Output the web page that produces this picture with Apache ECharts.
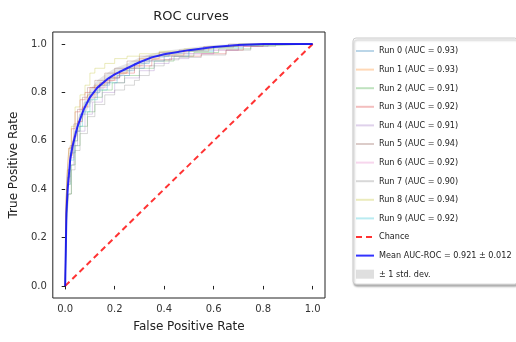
<!DOCTYPE html>
<html>
<head>
<meta charset="utf-8">
<script src="https://cdn.jsdelivr.net/npm/echarts@6/dist/echarts.min.js"></script>
<style>
  html, body { margin: 0; padding: 0; background: #fff; }
  #chart { width: 516px; height: 342px; }
</style>
</head>
<body>
<div id="chart"></div>
<script>
// per-run ROC points [fpr, tpr]
const run0 = [[0,0],[0.005,0.35],[0.01,0.45],[0.02,0.55],[0.04,0.64],[0.06,0.71],[0.08,0.76],[0.1,0.8],[0.14,0.83],[0.18,0.86],[0.22,0.89],[0.28,0.92],[0.34,0.95],[0.42,0.96],[0.5,0.975],[0.6,0.99],[0.7,1],[1,1]];
const run1 = [[0,0],[0.004,0.3],[0.01,0.42],[0.02,0.54],[0.03,0.6],[0.05,0.68],[0.07,0.74],[0.09,0.79],[0.12,0.83],[0.16,0.85],[0.2,0.88],[0.25,0.9],[0.3,0.94],[0.38,0.955],[0.48,0.97],[0.58,0.985],[0.68,0.995],[0.8,1],[1,1]];
const run2 = [[0,0],[0.006,0.28],[0.012,0.38],[0.025,0.5],[0.04,0.58],[0.06,0.66],[0.09,0.72],[0.12,0.78],[0.15,0.81],[0.19,0.84],[0.24,0.87],[0.3,0.9],[0.36,0.93],[0.44,0.95],[0.52,0.965],[0.62,0.98],[0.75,0.995],[0.85,1],[1,1]];
const run3 = [[0,0],[0.003,0.33],[0.008,0.46],[0.015,0.57],[0.025,0.65],[0.04,0.72],[0.06,0.77],[0.08,0.8],[0.1,0.82],[0.14,0.84],[0.18,0.86],[0.22,0.88],[0.28,0.91],[0.35,0.935],[0.43,0.95],[0.55,0.96],[0.65,0.975],[0.72,0.99],[0.8,1],[1,1]];
const run4 = [[0,0],[0.005,0.3],[0.012,0.4],[0.02,0.5],[0.035,0.58],[0.05,0.64],[0.08,0.71],[0.11,0.76],[0.15,0.8],[0.2,0.84],[0.24,0.86],[0.3,0.89],[0.36,0.92],[0.42,0.94],[0.5,0.96],[0.6,0.975],[0.7,0.99],[0.82,1],[1,1]];
const run5 = [[0,0],[0.004,0.36],[0.01,0.48],[0.02,0.58],[0.035,0.67],[0.05,0.73],[0.07,0.78],[0.09,0.82],[0.12,0.85],[0.16,0.88],[0.2,0.9],[0.25,0.93],[0.3,0.95],[0.38,0.965],[0.46,0.975],[0.56,0.99],[0.66,1],[1,1]];
const run6 = [[0,0],[0.005,0.32],[0.01,0.43],[0.02,0.53],[0.035,0.62],[0.05,0.68],[0.07,0.74],[0.1,0.78],[0.13,0.82],[0.17,0.85],[0.21,0.87],[0.26,0.9],[0.32,0.93],[0.4,0.95],[0.48,0.96],[0.6,0.975],[0.7,0.99],[0.78,1],[1,1]];
const run7 = [[0,0],[0.006,0.27],[0.014,0.38],[0.025,0.48],[0.04,0.56],[0.06,0.63],[0.09,0.7],[0.12,0.75],[0.16,0.79],[0.2,0.81],[0.24,0.83],[0.28,0.85],[0.3,0.87],[0.34,0.91],[0.4,0.935],[0.46,0.945],[0.55,0.955],[0.65,0.975],[0.75,0.99],[0.85,1],[1,1]];
const run8 = [[0,0],[0.004,0.35],[0.008,0.47],[0.015,0.57],[0.025,0.66],[0.04,0.74],[0.06,0.79],[0.08,0.83],[0.1,0.88],[0.12,0.9],[0.16,0.92],[0.2,0.94],[0.25,0.95],[0.3,0.96],[0.38,0.97],[0.48,0.98],[0.6,0.99],[0.7,1],[1,1]];
const run9 = [[0,0],[0.006,0.3],[0.012,0.42],[0.022,0.52],[0.035,0.6],[0.05,0.66],[0.07,0.72],[0.1,0.77],[0.13,0.81],[0.17,0.84],[0.21,0.87],[0.26,0.9],[0.32,0.93],[0.4,0.95],[0.5,0.97],[0.6,0.985],[0.72,0.995],[0.8,1],[1,1]];

const runs = [run0, run1, run2, run3, run4, run5, run6, run7, run8, run9];
const runAuc = [0.93, 0.93, 0.91, 0.92, 0.91, 0.94, 0.92, 0.90, 0.94, 0.92];
const runColors = ['#1f77b4', '#ff7f0e', '#2ca02c', '#d62728', '#9467bd', '#8c564b', '#e377c2', '#7f7f7f', '#bcbd22', '#17becf'];

// mean curve and +/- 1 std band
const meanFpr = [0, 0.005, 0.01, 0.02, 0.03, 0.05, 0.075, 0.1, 0.13, 0.17, 0.2, 0.25, 0.3, 0.35, 0.4, 0.5, 0.6, 0.7, 0.8, 1];
const meanTpr = [0, 0.3, 0.4, 0.52, 0.58, 0.66, 0.73, 0.78, 0.82, 0.855, 0.875, 0.9, 0.925, 0.945, 0.958, 0.975, 0.988, 0.996, 1, 1];
const tprLower = [0, 0.27, 0.37, 0.49, 0.55, 0.63, 0.7, 0.75, 0.79, 0.83, 0.85, 0.88, 0.905, 0.93, 0.945, 0.965, 0.98, 0.99, 0.997, 1];
const tprUpper = [0, 0.33, 0.43, 0.55, 0.61, 0.69, 0.76, 0.81, 0.85, 0.88, 0.9, 0.92, 0.945, 0.96, 0.971, 0.985, 0.996, 1, 1, 1];
const meanAuc = '0.921';
const stdAuc = '0.012';

const chanceLine = [[0, 0], [1, 1]];
const tickValues = [0, 0.2, 0.4, 0.6, 0.8, 1.0];

const font = '"DejaVu Sans", sans-serif';
const legendFont = '"DejaVu Sans Condensed", "Liberation Sans Narrow", "DejaVu Sans", sans-serif';
const stdName = '\u00b1 1 std. dev.';

const series = [];
runs.forEach((r, i) => {
  series.push({
    name: 'Run ' + i + ' (AUC = ' + runAuc[i].toFixed(2) + ')',
    type: 'line',
    data: r,
    step: 'end',
    showSymbol: false,
    symbol: 'none',
    lineStyle: { width: 1, color: runColors[i], opacity: 0.3 },
    itemStyle: { color: runColors[i], opacity: 0.3 },
    z: 2
  });
});

series.push({
  name: 'Chance',
  type: 'line',
  data: chanceLine,
  symbol: 'none',
  lineStyle: { width: 2, color: '#ff0000', opacity: 0.8, type: [6, 4] },
  itemStyle: { color: '#ff0000', opacity: 0.8 },
  z: 3
});

series.push({
  name: 'Mean AUC-ROC = ' + meanAuc + ' \u00b1 ' + stdAuc,
  type: 'line',
  data: meanFpr.map((x, i) => [x, meanTpr[i]]),
  symbol: 'none',
  lineStyle: { width: 2, color: '#0000ff', opacity: 0.8 },
  itemStyle: { color: '#0000ff', opacity: 0.8 },
  z: 4
});

// std band drawn as one polygon through the axes' own coordinate mapping
series.push({
  name: stdName,
  type: 'custom',
  data: meanFpr.map((x, i) => [x, tprLower[i], tprUpper[i]]),
  encode: { x: 0, y: [1, 2] },
  itemStyle: { color: 'rgba(128,128,128,0.2)' },
  z: 1,
  renderItem: (params, api) => {
    if (params.dataIndex !== 0) return;
    const upper = meanFpr.map((x, i) => api.coord([x, tprUpper[i]]));
    const lower = meanFpr.map((x, i) => api.coord([x, tprLower[i]])).reverse();
    return {
      type: 'polygon',
      shape: { points: upper.concat(lower) },
      style: { fill: 'rgba(128,128,128,0.2)', stroke: 'none' }
    };
  }
});

const chart = echarts.init(document.getElementById('chart'), null, { renderer: 'canvas' });
chart.setOption({
  animation: false,
  backgroundColor: '#ffffff',
  title: {
    text: 'ROC curves',
    left: 186,
    top: 5,
    textAlign: 'center',
    textStyle: { fontFamily: font, fontSize: 13, fontWeight: 'normal', color: '#222' }
  },
  grid: {
    left: 48, right: 191, top: 32, bottom: 44,
    show: true, borderColor: '#222', borderWidth: 1, backgroundColor: 'transparent'
  },
  legend: {
    orient: 'vertical',
    left: 353,
    top: 38,
    width: 170,
    padding: [7, 6, 4, 2],
    itemWidth: 18,
    itemHeight: 9,
    itemGap: 6.6,
    borderColor: '#cccccc',
    borderWidth: 1,
    borderRadius: 3,
    backgroundColor: '#fff',
    shadowColor: 'rgba(0,0,0,0.3)',
    shadowBlur: 2,
    shadowOffsetX: 1,
    shadowOffsetY: 2,
    itemStyle: { opacity: 0 },
    data: series.map(s => s.name === stdName
      ? { name: s.name, icon: 'rect', itemStyle: { opacity: 1, color: 'rgba(128,128,128,0.25)' } }
      : s.name),
    textStyle: { fontFamily: legendFont, fontSize: 9, color: '#222', lineHeight: 12 }
  },
  xAxis: {
    type: 'value',
    min: -0.05,
    max: 1.05,
    name: 'False Positive Rate',
    nameLocation: 'middle',
    nameGap: 23,
    nameTextStyle: { fontFamily: font, fontSize: 12, color: '#222' },
    axisLine: { show: false },
    splitLine: { show: false },
    axisTick: { show: true, customValues: tickValues, length: 3.5, lineStyle: { color: '#222' } },
    axisLabel: {
      customValues: tickValues,
      formatter: v => v.toFixed(1),
      fontFamily: font, fontSize: 10, color: '#333', margin: 6
    }
  },
  yAxis: {
    type: 'value',
    min: -0.05,
    max: 1.05,
    name: 'True Positive Rate',
    nameLocation: 'middle',
    nameGap: 25,
    nameTextStyle: { fontFamily: font, fontSize: 12, color: '#222' },
    axisLine: { show: false },
    splitLine: { show: false },
    axisTick: { show: true, customValues: tickValues, length: 3.5, lineStyle: { color: '#222' } },
    axisLabel: {
      customValues: tickValues,
      formatter: v => v.toFixed(1),
      fontFamily: font, fontSize: 10, color: '#333', margin: 6
    }
  },
  series: series
});
</script>
</body>
</html>
